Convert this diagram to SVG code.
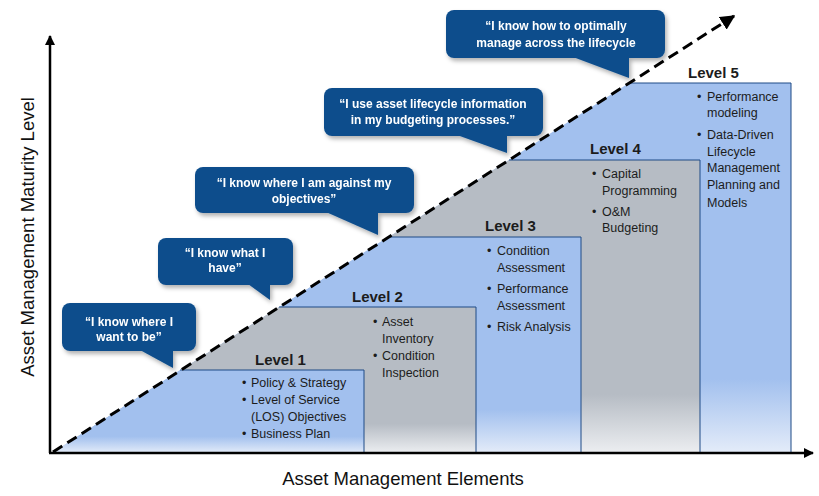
<svg xmlns="http://www.w3.org/2000/svg" width="819" height="496" viewBox="0 0 819 496">
<defs>
<style>
.body{font-family:"Liberation Sans",Arial,sans-serif;font-size:12.5px;fill:#1c1c1c}
.lvl{font-family:"Liberation Sans",Arial,sans-serif;font-size:15px;font-weight:bold;fill:#1c1c1c}
.call{font-family:"Liberation Sans",Arial,sans-serif;font-size:12px;font-weight:bold;fill:#ffffff;text-anchor:middle}
.axlbl{font-family:"Liberation Sans",Arial,sans-serif;font-size:18.5px;fill:#111}
.bubble{fill:#0C4D8C}
.edge{fill:none;stroke:#1F4A86;stroke-width:1}
</style>
<linearGradient id="gBlue" x1="0" y1="0" x2="0" y2="1">
<stop offset="0" stop-color="#A2C0EE"/>
<stop offset="0.8" stop-color="#A2C0EE"/>
<stop offset="1" stop-color="#E4ECF9"/>
</linearGradient>
<linearGradient id="gGray" x1="0" y1="0" x2="0" y2="1">
<stop offset="0" stop-color="#B6BCC4"/>
<stop offset="0.8" stop-color="#B6BCC4"/>
<stop offset="1" stop-color="#ECEEF1"/>
</linearGradient>
<filter id="sh" x="-10%" y="-10%" width="130%" height="140%">
<feDropShadow dx="2" dy="3" stdDeviation="2" flood-color="#000" flood-opacity="0.3"/>
</filter>
<marker id="arr" viewBox="0 0 10 10" refX="9" refY="5" markerWidth="4" markerHeight="4" orient="auto" markerUnits="strokeWidth">
<path d="M0,0 L10,5 L0,10 Z" fill="#000"/>
</marker>
<marker id="arr2" viewBox="0 0 10 10" refX="9" refY="5" markerWidth="5" markerHeight="5" orient="auto" markerUnits="strokeWidth">
<path d="M0,0 L10,5 L0,10 Z" fill="#000"/>
</marker>
</defs>
<rect width="819" height="496" fill="#ffffff"/>

<g id="level5">
<path d="M52,453 L629,83 L791,83 L791,453 Z" fill="url(#gBlue)"/>
<path class="edge" d="M629,83 L791,83 L791,453"/>
<text class="lvl" x="688" y="78">Level 5</text>
<text class="body"><tspan x="697" y="101">•</tspan><tspan x="707" y="101">Performance</tspan><tspan x="707" y="117">modeling</tspan><tspan x="697" y="139">•</tspan><tspan x="707" y="139">Data-Driven</tspan><tspan x="707" y="156">Lifecycle</tspan><tspan x="707" y="172">Management</tspan><tspan x="707" y="189">Planning and</tspan><tspan x="707" y="207">Models</tspan></text>
</g>

<g id="level4">
<path d="M52,453 L509,160 L700,160 L700,453 Z" fill="url(#gGray)"/>
<path class="edge" d="M509,160 L700,160 L700,453"/>
<text class="lvl" x="590" y="154">Level 4</text>
<text class="body"><tspan x="592" y="178">•</tspan><tspan x="602" y="178">Capital</tspan><tspan x="602" y="195">Programming</tspan><tspan x="592" y="216">•</tspan><tspan x="602" y="216">O&amp;M</tspan><tspan x="602" y="232">Budgeting</tspan></text>
</g>

<g id="level3">
<path d="M52,453 L388,237 L581,237 L581,453 Z" fill="url(#gBlue)"/>
<path class="edge" d="M388,237 L581,237 L581,453"/>
<text class="lvl" x="485" y="231">Level 3</text>
<text class="body"><tspan x="487" y="255">•</tspan><tspan x="497" y="255">Condition</tspan><tspan x="497" y="272">Assessment</tspan><tspan x="487" y="293">•</tspan><tspan x="497" y="293">Performance</tspan><tspan x="497" y="310">Assessment</tspan><tspan x="487" y="331">•</tspan><tspan x="497" y="331">Risk Analysis</tspan></text>
</g>

<g id="level2">
<path d="M52,453 L279,307 L476,307 L476,453 Z" fill="url(#gGray)"/>
<path class="edge" d="M279,307 L476,307 L476,453"/>
<text class="lvl" x="352" y="302">Level 2</text>
<text class="body"><tspan x="373" y="326">•</tspan><tspan x="382" y="326">Asset</tspan><tspan x="382" y="343">Inventory</tspan><tspan x="373" y="360">•</tspan><tspan x="382" y="360">Condition</tspan><tspan x="382" y="377">Inspection</tspan></text>
</g>

<g id="level1">
<path d="M52,453 L180,370 L364,370 L364,453 Z" fill="url(#gBlue)"/>
<path class="edge" d="M180,370 L364,370 L364,453"/>
<text class="lvl" x="255" y="365">Level 1</text>
<text class="body"><tspan x="242" y="387">•</tspan><tspan x="251" y="387">Policy &amp; Strategy</tspan><tspan x="242" y="404">•</tspan><tspan x="251" y="404">Level of Service</tspan><tspan x="251" y="421">(LOS) Objectives</tspan><tspan x="242" y="438">•</tspan><tspan x="251" y="438">Business Plan</tspan></text>
</g>

<g id="connectors">
<line x1="50" y1="453" x2="50" y2="36" stroke="#000" stroke-width="2.5" marker-end="url(#arr)"/>
<line x1="49" y1="453" x2="813" y2="453" stroke="#000" stroke-width="2.5" marker-end="url(#arr)"/>
<line x1="53" y1="452" x2="734" y2="16" stroke="#000" stroke-width="3" stroke-dasharray="11,6" marker-end="url(#arr2)"/>
</g>

<g id="callout1" filter="url(#sh)">
<rect class="bubble" x="62" y="303" width="134" height="48" rx="8"/>
<path class="bubble" d="M140,350 L173,350 L173,368 Z"/>
<text class="call"><tspan x="129" y="326">“I know where I</tspan><tspan x="129" y="341">want to be”</tspan></text>
</g>

<g id="callout2" filter="url(#sh)">
<rect class="bubble" x="158" y="238" width="135" height="47" rx="8"/>
<path class="bubble" d="M248,284 L270,284 L270,300 Z"/>
<text class="call"><tspan x="225" y="257">“I know what I</tspan><tspan x="225" y="272">have”</tspan></text>
</g>

<g id="callout3" filter="url(#sh)">
<rect class="bubble" x="195" y="167" width="219" height="46" rx="8"/>
<path class="bubble" d="M326,212 L378,212 L378,235 Z"/>
<text class="call"><tspan x="304" y="187">“I know where I am against my</tspan><tspan x="304" y="203">objectives”</tspan></text>
</g>

<g id="callout4" filter="url(#sh)">
<rect class="bubble" x="324" y="88" width="219" height="48" rx="8"/>
<path class="bubble" d="M457,135 L507,135 L507,153 Z"/>
<text class="call"><tspan x="433" y="108">“I use asset lifecycle information</tspan><tspan x="433" y="124">in my budgeting processes.”</tspan></text>
</g>

<g id="callout5" filter="url(#sh)">
<rect class="bubble" x="446" y="10" width="219" height="48" rx="8"/>
<path class="bubble" d="M573,57 L629,57 L629,78 Z"/>
<text class="call"><tspan x="556" y="30">“I know how to optimally</tspan><tspan x="556" y="47">manage across the lifecycle</tspan></text>
</g>

<text class="axlbl" transform="translate(34,237) rotate(-90)" text-anchor="middle">Asset Management Maturity Level</text>
<text class="axlbl" x="403" y="485" text-anchor="middle">Asset Management Elements</text>
</svg>
